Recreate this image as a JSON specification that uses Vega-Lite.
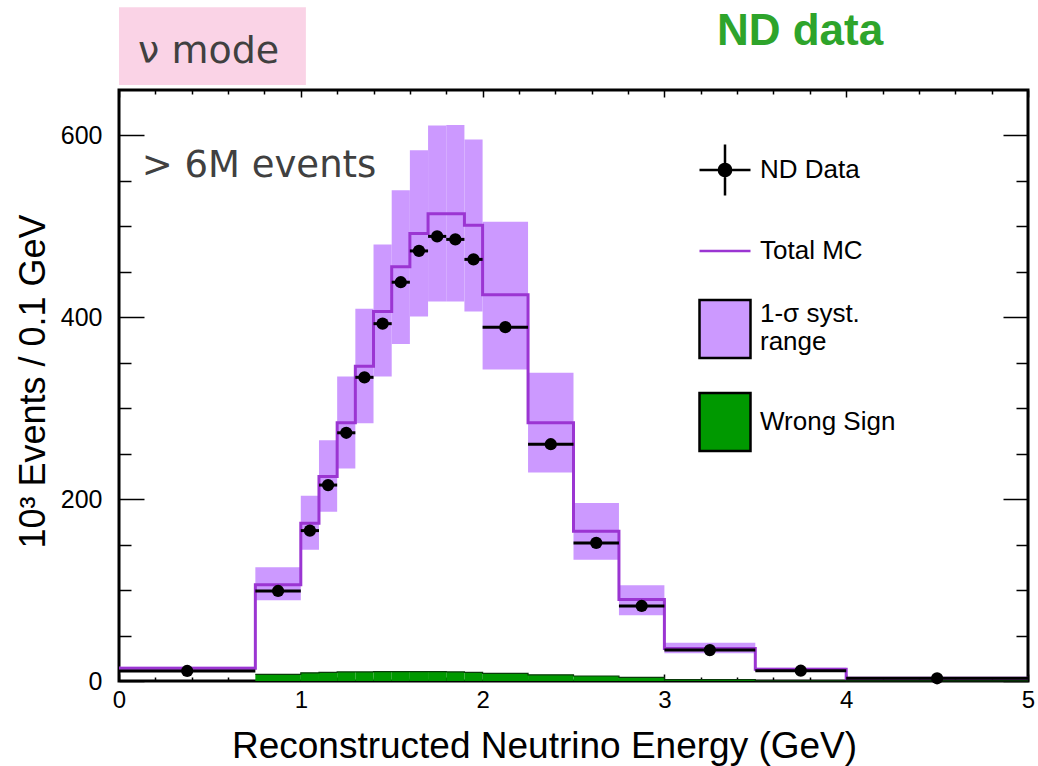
{
  "$schema": "https://vega.github.io/schema/vega-lite/v6.json",
  "width": 909,
  "height": 591,
  "autosize": {"type": "none"},
  "padding": {"left": 119, "top": 90, "right": 10, "bottom": 85},
  "background": "white",
  "config": {
    "view": {"stroke": "black", "strokeWidth": 3},
    "font": "Liberation Sans"
  },
  "datasets": {
    "bins": [
      {"lo": 0, "hi": 0.75, "center": 0.375, "mc": 14, "band_lo": 12, "band_hi": 15.6, "data": 11, "ws": 0},
      {"lo": 0.75, "hi": 1.0, "center": 0.875, "mc": 105.9, "band_lo": 88.7, "band_hi": 125, "data": 99, "ws": 7.3},
      {"lo": 1.0, "hi": 1.1, "center": 1.05, "mc": 173.4, "band_lo": 144.3, "band_hi": 203.8, "data": 165.4, "ws": 9},
      {"lo": 1.1, "hi": 1.2, "center": 1.15, "mc": 225, "band_lo": 186.2, "band_hi": 264.8, "data": 215.5, "ws": 9.5},
      {"lo": 1.2, "hi": 1.3, "center": 1.25, "mc": 284, "band_lo": 233.7, "band_hi": 335, "data": 273, "ws": 10},
      {"lo": 1.3, "hi": 1.4, "center": 1.35, "mc": 346.2, "band_lo": 283.4, "band_hi": 409.4, "data": 334, "ws": 10},
      {"lo": 1.4, "hi": 1.5, "center": 1.45, "mc": 406.4, "band_lo": 335, "band_hi": 480.2, "data": 393, "ws": 10.3},
      {"lo": 1.5, "hi": 1.6, "center": 1.55, "mc": 455.7, "band_lo": 370.6, "band_hi": 539.7, "data": 438.6, "ws": 10.3},
      {"lo": 1.6, "hi": 1.7, "center": 1.65, "mc": 492.2, "band_lo": 401, "band_hi": 583.6, "data": 473, "ws": 10.3},
      {"lo": 1.7, "hi": 1.8, "center": 1.75, "mc": 514, "band_lo": 417.4, "band_hi": 611, "data": 489, "ws": 10.3},
      {"lo": 1.8, "hi": 1.9, "center": 1.85, "mc": 514, "band_lo": 417.4, "band_hi": 611.6, "data": 485.7, "ws": 10},
      {"lo": 1.9, "hi": 2.0, "center": 1.95, "mc": 501.3, "band_lo": 406.4, "band_hi": 595.6, "data": 463.7, "ws": 9.5},
      {"lo": 2.0, "hi": 2.25, "center": 2.125, "mc": 424.7, "band_lo": 342.6, "band_hi": 505, "data": 389.2, "ws": 8.4},
      {"lo": 2.25, "hi": 2.5, "center": 2.375, "mc": 284, "band_lo": 229.3, "band_hi": 338.9, "data": 260.4, "ws": 6.8},
      {"lo": 2.5, "hi": 2.75, "center": 2.625, "mc": 164.7, "band_lo": 133.3, "band_hi": 195.7, "data": 151.9, "ws": 5.5},
      {"lo": 2.75, "hi": 3.0, "center": 2.875, "mc": 89.5, "band_lo": 72.3, "band_hi": 105.2, "data": 82.5, "ws": 4},
      {"lo": 3.0, "hi": 3.5, "center": 3.25, "mc": 35.8, "band_lo": 30.5, "band_hi": 42, "data": 34, "ws": 1.5},
      {"lo": 3.5, "hi": 4.0, "center": 3.75, "mc": 13, "band_lo": 11, "band_hi": 14.5, "data": 11.3, "ws": 0.5},
      {"lo": 4.0, "hi": 5.0, "center": 4.5, "mc": 3, "band_lo": 2.5, "band_hi": 3.5, "data": 3, "ws": 0.2}
    ],
    "legend": [
      {"series": "ND Data"},
      {"series": "Total MC"},
      {"series": "1-σ syst. range"},
      {"series": "Wrong Sign"}
    ]
  },
  "resolve": {"axis": {"x": "independent", "y": "independent"}},
  "layer": [
    {
      "data": {"name": "bins"},
      "transform": [{"filter": "datum.lo === 0"}],
      "mark": {"type": "rect", "fill": "#fad3e6"},
      "encoding": {
        "x": {"datum": 0, "type": "quantitative", "scale": {"domain": [0, 5], "nice": false, "zero": false}, "axis": null},
        "x2": {"datum": 1.028},
        "y": {"datum": 655.5, "type": "quantitative", "scale": {"domain": [0, 650], "nice": false}, "axis": null},
        "y2": {"datum": 741}
      }
    },
    {
      "data": {"name": "bins"},
      "transform": [{"filter": "datum.lo === 0"}],
      "mark": {"type": "text", "text": "ν mode", "font": "DejaVu Sans", "fontSize": 38, "color": "#404040", "align": "left", "baseline": "alphabetic"},
      "encoding": {
        "x": {"datum": 0.105, "type": "quantitative", "scale": {"domain": [0, 5], "nice": false, "zero": false}, "axis": null},
        "y": {"datum": 679.4, "type": "quantitative", "scale": {"domain": [0, 650], "nice": false}, "axis": null}
      }
    },
    {
      "data": {"name": "bins"},
      "transform": [{"filter": "datum.lo === 0"}],
      "mark": {"type": "text", "text": "ND data", "font": "Liberation Sans", "fontWeight": "bold", "fontSize": 44, "color": "#2ea42b", "align": "center", "baseline": "alphabetic"},
      "encoding": {
        "x": {"datum": 3.746, "type": "quantitative", "scale": {"domain": [0, 5], "nice": false, "zero": false}, "axis": null},
        "y": {"datum": 699.5, "type": "quantitative", "scale": {"domain": [0, 650], "nice": false}, "axis": null}
      }
    },
    {
      "data": {"name": "bins"},
      "transform": [{"filter": "datum.lo === 0"}],
      "mark": {"type": "text", "text": "> 6M events", "font": "DejaVu Sans", "fontSize": 37, "color": "#404040", "align": "left", "baseline": "alphabetic"},
      "encoding": {
        "x": {"datum": 0.125, "type": "quantitative", "scale": {"domain": [0, 5], "nice": false, "zero": false}, "axis": null},
        "y": {"datum": 554.7, "type": "quantitative", "scale": {"domain": [0, 650], "nice": false}, "axis": null}
      }
    },
    {
      "data": {"name": "bins"},
      "mark": {"type": "rect", "fill": "#cc99ff"},
      "encoding": {
        "x": {
          "field": "lo", "type": "quantitative",
          "scale": {"domain": [0, 5], "nice": false, "zero": false},
          "axis": {
            "orient": "bottom",
            "title": "Reconstructed Neutrino Energy (GeV)",
            "values": [0, 0.2, 0.4, 0.6, 0.8, 1, 1.2, 1.4, 1.6, 1.8, 2, 2.2, 2.4, 2.6, 2.8, 3, 3.2, 3.4, 3.6, 3.8, 4, 4.2, 4.4, 4.6, 4.8, 5],
            "labelExpr": "datum.value % 1 === 0 ? toString(datum.value) : ''",
            "labelOverlap": false,
            "labelFlush": false,
            "labelFont": "Liberation Sans",
            "labelFontSize": 24,
            "labelColor": "black",
            "labelPadding": 14,
            "domain": false,
            "grid": false,
            "tickSize": {"expr": "(datum.value % 1 === 0 ? -7 : -4)"},
            "tickColor": "black",
            "tickWidth": 1.5,
            "titleFont": "Liberation Sans",
            "titleFontSize": 37,
            "titleFontWeight": "normal",
            "titleColor": "black",
            "titleAnchor": "start",
            "titleAlign": "center",
            "titleX": 425,
            "titleY": 76,
            "titleBaseline": "alphabetic"
          }
        },
        "x2": {"field": "hi"},
        "y": {
          "field": "band_lo", "type": "quantitative",
          "scale": {"domain": [0, 650], "nice": false},
          "axis": {
            "orient": "left",
            "title": "10³ Events / 0.1 GeV",
            "values": [0, 50, 100, 150, 200, 250, 300, 350, 400, 450, 500, 550, 600],
            "labelExpr": "datum.value % 200 === 0 ? datum.label : ''",
            "labelOverlap": false,
            "labelFlush": false,
            "labelFont": "Liberation Sans",
            "labelFontSize": 25,
            "labelColor": "black",
            "labelPadding": 42,
            "domain": false,
            "grid": false,
            "tickSize": {"expr": "(datum.value % 200 === 0 ? -25 : -12)"},
            "tickColor": "black",
            "tickWidth": 1.5,
            "titleFont": "Liberation Sans",
            "titleFontSize": 36,
            "titleFontWeight": "normal",
            "titleColor": "black",
            "titleAnchor": "start",
            "titleAlign": "center",
            "titleAngle": -90,
            "titleX": -75,
            "titleY": 291,
            "titleBaseline": "alphabetic"
          }
        },
        "y2": {"field": "band_hi"}
      }
    },
    {
      "data": {"name": "bins"},
      "transform": [{"filter": "datum.ws > 0"}],
      "mark": {"type": "rect", "fill": "#009900"},
      "encoding": {
        "x": {
          "field": "lo", "type": "quantitative",
          "scale": {"domain": [0, 5], "nice": false, "zero": false},
          "axis": {
            "orient": "top",
            "title": null,
            "values": [0, 0.2, 0.4, 0.6, 0.8, 1, 1.2, 1.4, 1.6, 1.8, 2, 2.2, 2.4, 2.6, 2.8, 3, 3.2, 3.4, 3.6, 3.8, 4, 4.2, 4.4, 4.6, 4.8, 5],
            "labels": false,
            "domain": false,
            "grid": false,
            "tickSize": {"expr": "(datum.value % 1 === 0 ? -7 : -4)"},
            "tickColor": "black",
            "tickWidth": 1.5
          }
        },
        "x2": {"field": "hi"},
        "y": {
          "field": "ws", "type": "quantitative",
          "scale": {"domain": [0, 650], "nice": false},
          "axis": {
            "orient": "right",
            "title": null,
            "values": [0, 50, 100, 150, 200, 250, 300, 350, 400, 450, 500, 550, 600],
            "labels": false,
            "domain": false,
            "grid": false,
            "tickSize": {"expr": "(datum.value % 200 === 0 ? -25 : -12)"},
            "tickColor": "black",
            "tickWidth": 1.5
          }
        },
        "y2": {"datum": 0}
      }
    },
    {
      "data": {"name": "bins"},
      "transform": [{"filter": "datum.lo >= 0.75"}, {"fold": ["lo", "hi"], "as": ["edge_key", "edge"]}],
      "mark": {"type": "line", "color": "#0a3a0a", "strokeWidth": 1.2},
      "encoding": {
        "x": {"field": "edge", "type": "quantitative", "scale": {"domain": [0, 5], "nice": false, "zero": false}, "axis": null},
        "y": {"field": "ws", "type": "quantitative", "scale": {"domain": [0, 650], "nice": false}, "axis": null},
        "order": [{"field": "edge", "type": "quantitative"}, {"field": "lo", "type": "quantitative"}]
      }
    },
    {
      "data": {"name": "bins"},
      "transform": [{"fold": ["lo", "hi"], "as": ["edge_key", "edge"]}],
      "mark": {"type": "line", "color": "#9b35d2", "strokeWidth": 3},
      "encoding": {
        "x": {"field": "edge", "type": "quantitative", "scale": {"domain": [0, 5], "nice": false, "zero": false}, "axis": null},
        "y": {"field": "mc", "type": "quantitative", "scale": {"domain": [0, 650], "nice": false}, "axis": null},
        "order": [{"field": "edge", "type": "quantitative"}, {"field": "lo", "type": "quantitative"}]
      }
    },
    {
      "data": {"name": "bins"},
      "mark": {"type": "rule", "color": "black", "strokeWidth": 3},
      "encoding": {
        "x": {"field": "lo", "type": "quantitative", "scale": {"domain": [0, 5], "nice": false, "zero": false}, "axis": null},
        "x2": {"field": "hi"},
        "y": {"field": "data", "type": "quantitative", "scale": {"domain": [0, 650], "nice": false}, "axis": null}
      }
    },
    {
      "data": {"name": "bins"},
      "mark": {"type": "point", "filled": true, "color": "black", "size": 150, "opacity": 1},
      "encoding": {
        "x": {"field": "center", "type": "quantitative", "scale": {"domain": [0, 5], "nice": false, "zero": false}, "axis": null},
        "y": {"field": "data", "type": "quantitative", "scale": {"domain": [0, 650], "nice": false}, "axis": null}
      }
    },
    {
      "data": {"name": "legend"},
      "mark": {"type": "point", "filled": true, "opacity": 0},
      "encoding": {
        "fill": {
          "field": "series", "type": "nominal",
          "scale": {"domain": ["ND Data", "Total MC", "1-σ syst. range", "Wrong Sign"], "range": ["black", "transparent", "#cc99ff", "#009900"]},
          "legend": {
            "orient": "none", "direction": "vertical", "legendX": 579, "legendY": 53, "title": null,
            "symbolSize": 2601, "symbolOpacity": 1, "symbolStrokeWidth": 2.5,
            "labelFont": "Liberation Sans", "labelFontSize": 26, "labelColor": "black", "labelOffset": 8, "labelLimit": 300, "rowPadding": 23,
            "labelExpr": "datum.label == '1-σ syst. range' ? ['1-σ syst.', 'range'] : datum.label"
          }
        },
        "stroke": {
          "field": "series", "type": "nominal",
          "scale": {"domain": ["ND Data", "Total MC", "1-σ syst. range", "Wrong Sign"], "range": ["black", "#9b35d2", "black", "black"]},
          "legend": {
            "orient": "none", "direction": "vertical", "legendX": 579, "legendY": 53, "title": null,
            "symbolSize": 2601, "symbolOpacity": 1, "symbolStrokeWidth": 2.5,
            "labelFont": "Liberation Sans", "labelFontSize": 26, "labelColor": "black", "labelOffset": 8, "labelLimit": 300, "rowPadding": 23,
            "labelExpr": "datum.label == '1-σ syst. range' ? ['1-σ syst.', 'range'] : datum.label"
          }
        },
        "shape": {
          "field": "series", "type": "nominal",
          "scale": {"domain": ["ND Data", "Total MC", "1-σ syst. range", "Wrong Sign"], "range": ["M-1,0L1,0M0,-1L0,1M0.24,0A0.24,0.24,0,1,1,-0.24,0A0.24,0.24,0,1,1,0.24,0Z", "M-1,0L1,0", "M-1,-0.55L1,-0.55L1,1.73L-1,1.73Z", "M-1,-1.14L1,-1.14L1,1.14L-1,1.14Z"]},
          "legend": {
            "orient": "none", "direction": "vertical", "legendX": 579, "legendY": 53, "title": null,
            "symbolSize": 2601, "symbolOpacity": 1, "symbolStrokeWidth": 2.5,
            "labelFont": "Liberation Sans", "labelFontSize": 26, "labelColor": "black", "labelOffset": 8, "labelLimit": 300, "rowPadding": 23,
            "labelExpr": "datum.label == '1-σ syst. range' ? ['1-σ syst.', 'range'] : datum.label"
          }
        }
      }
    }
  ]
}
